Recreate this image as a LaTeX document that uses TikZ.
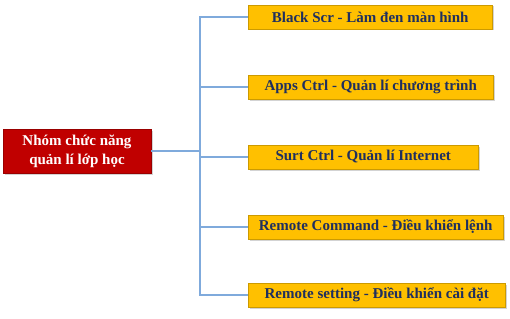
\documentclass[tikz,border=0pt]{standalone}
\usepackage{fontspec}
\setmainfont{Liberation Serif}
\usetikzlibrary{shadows}
\definecolor{rootred}{HTML}{C00000}
\definecolor{kidfill}{HTML}{FFC000}
\definecolor{kidtext}{HTML}{1F2F5F}
\definecolor{linkblue}{HTML}{7FAADC}
\tikzset{
  rootbox/.style={draw=rootred!80!black, line width=0.4pt, fill=rootred, text=white, font=\bfseries\fontsize{15}{19}\selectfont, align=center, minimum width=148pt, minimum height=44pt, inner sep=0pt, drop shadow={shadow xshift=1.5pt, shadow yshift=-1.5pt, opacity=0.35}},
  kidbox/.style={draw=kidfill!80!black, line width=0.4pt, fill=kidfill, text=kidtext, font=\bfseries\fontsize{15}{18}\selectfont, anchor=west, minimum height=24pt, inner xsep=6pt, inner ysep=0pt, drop shadow={shadow xshift=1.5pt, shadow yshift=-1.5pt, opacity=0.35}},
  link/.style={draw=linkblue, line width=1.2pt}
}
\begin{document}
\begin{tikzpicture}[x=1pt,y=-1pt]
\useasboundingbox (0,0) rectangle (510,318);
\node[rootbox] (root) at (77,151) {Nhóm chức năng\\quản lí lớp học};
\node[kidbox, minimum width=244pt] (k1) at (248,17) {Black Scr - Làm đen màn hình};
\node[kidbox, minimum width=245pt] (k2) at (248,87) {Apps Ctrl - Quản lí chương trình};
\node[kidbox, minimum width=230pt] (k3) at (248,157) {Surt Ctrl - Quản lí Internet};
\node[kidbox, minimum width=255pt] (k4) at (248,227) {Remote Command - Điều khiển lệnh};
\node[kidbox, minimum width=257pt] (k5) at (248,295) {Remote setting - Điều khiển cài đặt};
\coordinate (hub) at (200,151);
\foreach \k in {k1,k2,k3,k4,k5}{
  \draw[link] (root.east) -- (hub) |- (\k.west);
}
\end{tikzpicture}
\end{document}
